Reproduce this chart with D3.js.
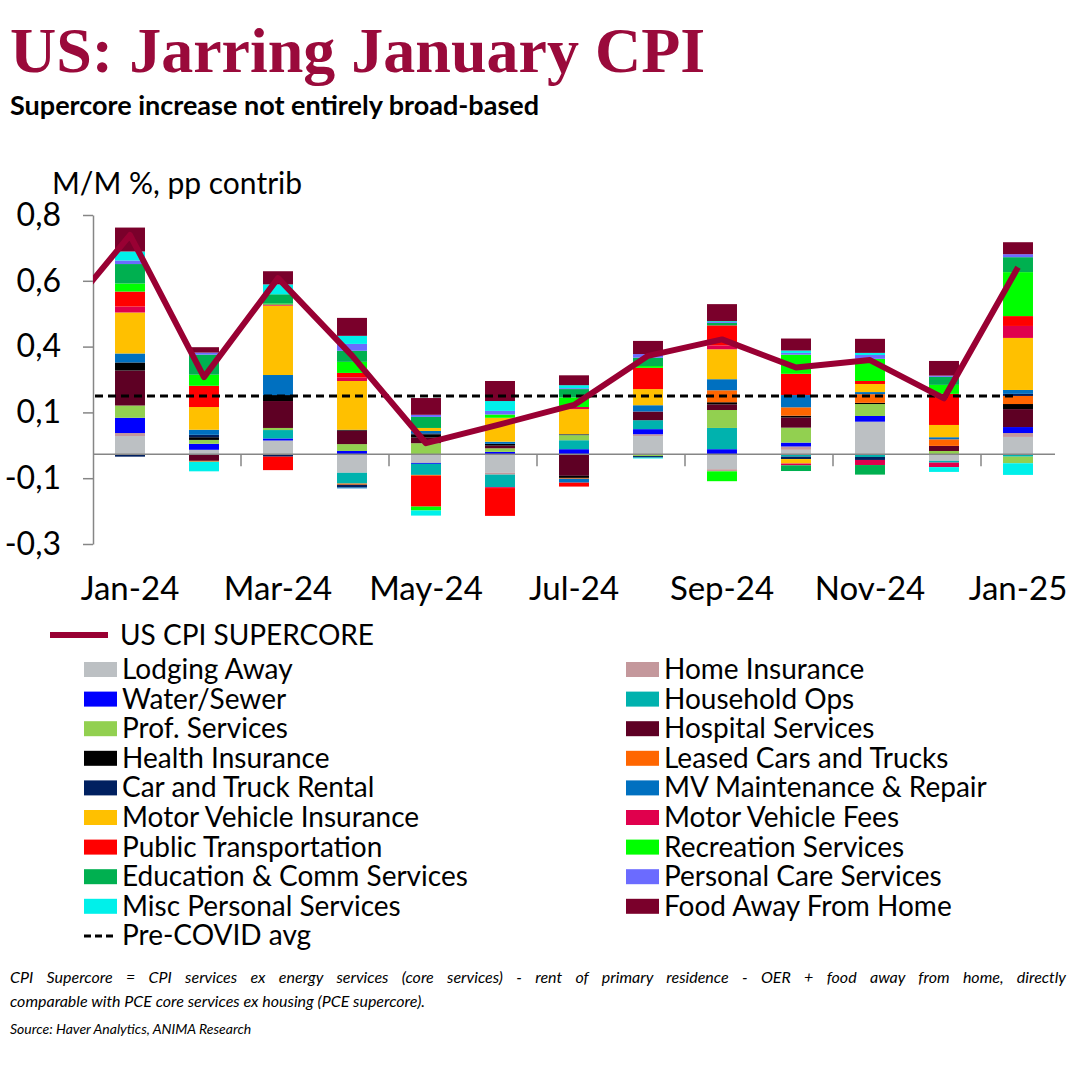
<!DOCTYPE html>
<html>
<head>
<meta charset="utf-8">
<script src="https://cdn.jsdelivr.net/npm/d3@7"></script>
<style>
  body { margin: 0; background: #fff; }
  svg { display: block; }
</style>
</head>
<body>
<div id="chart"></div>
<script>
// months on the category axis
var months = ["Jan-24", "Feb-24", "Mar-24", "Apr-24", "May-24", "Jun-24", "Jul-24",
              "Aug-24", "Sep-24", "Oct-24", "Nov-24", "Dec-24", "Jan-25"];
var labelMonths = ["Jan-24", "Mar-24", "May-24", "Jul-24", "Sep-24", "Nov-24", "Jan-25"];

// contributions, pp
var lodgingAway   = [0.061, 0.015, 0.046, -0.062, -0.029, -0.062, 0, 0.061, -0.050, 0.015, 0.109, -0.022, 0.058];
var homeInsurance = [0.010, 0, 0, 0, 0, -0.006, 0, 0.006, -0.007, 0.011, 0, 0, 0.013];
var waterSewer    = [0.051, 0.020, 0.007, 0.011, -0.003, 0.008, 0.017, 0.017, 0.017, 0.013, 0.019, 0, 0.020];
var householdOps  = [0, 0, 0.028, -0.036, -0.037, -0.042, 0.030, 0.030, 0.071, -0.008, -0.009, -0.006, -0.008];
var profServices  = [0.041, 0.013, 0.007, 0.023, 0.037, 0.012, 0.017, -0.006, 0.060, 0.050, 0.040, 0.011, -0.022];
var hospital      = [0.117, -0.022, 0.090, 0.045, 0.019, 0.009, -0.072, 0.029, 0.019, 0.034, 0, 0.017, 0.060];
var healthIns     = [0.027, 0.009, 0.020, 0.003, 0.011, 0.006, -0.007, 0, 0.007, 0.006, 0.004, 0, 0.017];
var leasedCars    = [0, -0.003, 0, -0.004, -0.003, 0, -0.003, 0, 0.040, 0.028, 0.029, 0.022, 0.027];
var carRental     = [-0.008, 0.008, -0.008, -0.009, 0.003, 0, 0.003, -0.005, 0, -0.008, -0.010, 0, 0.007];
var mvMaintenance = [0.030, 0.017, 0.067, -0.003, 0.008, 0.007, -0.013, 0.021, 0.037, 0.041, 0.007, 0.007, 0.013];
var mvInsurance   = [0.137, 0.076, 0.232, 0.163, 0.010, 0.080, 0.084, 0.054, 0.100, -0.015, 0.027, 0.041, 0.174];
var mvFees        = [0.020, 0, 0.004, 0.012, 0, -0.003, 0.007, 0, 0.013, -0.006, -0.017, -0.015, 0.040];
var publicTransp  = [0.050, 0.071, -0.045, 0.015, -0.103, -0.093, -0.013, 0.071, 0.067, 0.071, 0.010, 0.104, 0.033];
var recreation    = [0.027, 0.037, 0.003, 0.037, -0.013, 0.011, 0.032, 0.006, -0.033, 0.064, 0.074, 0.030, 0.147];
var education     = [0.065, 0.067, 0.031, 0.037, 0.037, 0, 0.028, 0.028, 0.008, -0.019, -0.032, 0.027, 0.050];
var personalCare  = [0.012, 0.007, 0, 0.023, 0.007, 0.012, 0.003, 0.012, 0.003, 0.006, 0.013, 0.004, 0.010];
var miscPersonal  = [0.030, -0.032, 0.033, 0.027, -0.017, 0.033, 0.010, -0.003, 0.003, 0.008, 0.007, -0.016, -0.039];
var foodAway      = [0.080, 0.018, 0.044, 0.060, 0.056, 0.067, 0.033, 0.044, 0.057, 0.040, 0.047, 0.049, 0.040];

// supercore line, starts one month before the first bar (clipped at the axis)
var lineMonths = ["Dec-23"].concat(months);
var supercore = [0.433, 0.733, 0.258, 0.589, 0.330, 0.037, 0.100, 0.165, 0.329, 0.384, 0.290, 0.315, 0.187, 0.625];
var preCovidAvg = 0.195;

var yTickValues = [-0.3, -0.08, 0.14, 0.36, 0.58, 0.8];

var seriesNames = ["Lodging Away", "Home Insurance", "Water/Sewer", "Household Ops", "Prof. Services",
  "Hospital Services", "Health Insurance", "Leased Cars and Trucks", "Car and Truck Rental",
  "MV Maintenance & Repair", "Motor Vehicle Insurance", "Motor Vehicle Fees", "Public Transportation",
  "Recreation Services", "Education & Comm Services", "Personal Care Services",
  "Misc Personal Services", "Food Away From Home"];
var seriesValues = [lodgingAway, homeInsurance, waterSewer, householdOps, profServices, hospital,
  healthIns, leasedCars, carRental, mvMaintenance, mvInsurance, mvFees, publicTransp, recreation,
  education, personalCare, miscPersonal, foodAway];
var seriesColors = ["#bcc0c3", "#c4989c", "#0000ff", "#00b2ae", "#92d050", "#5e0024",
  "#000000", "#ff6600", "#002060", "#0070c0", "#ffc000", "#e0004d", "#ff0000",
  "#00ff00", "#00b050", "#6b6bff", "#00f0ea", "#7a002b"];

var lineColor = "#990033";
var axisColor = "#868686";

// canvas
var svg = d3.select("#chart")
    .append("svg")
    .attr("width", 1080)
    .attr("height", 1080)
    .style("font-family", "Lato, sans-serif");

// title block
svg.append("text")
    .attr("x", 10).attr("y", 72)
    .style("font-family", "'Liberation Serif', serif")
    .style("font-weight", "bold")
    .style("font-size", "64px")
    .attr("fill", "#9a0a3b")
    .text("US: Jarring January CPI");

svg.append("text")
    .attr("x", 10).attr("y", 115)
    .style("font-weight", "bold")
    .style("font-size", "27px")
    .text("Supercore increase not entirely broad-based");

svg.append("text")
    .attr("x", 52).attr("y", 194)
    .style("font-size", "30px")
    .text("M/M %, pp contrib");

// scales
var plot = {left: 93, right: 1055, top: 215, bottom: 544};

var x = d3.scaleBand()
    .domain(months)
    .range([plot.left, plot.right])
    .paddingInner(0.595)
    .paddingOuter(0.2975);

var y = d3.scaleLinear()
    .domain([-0.3, 0.8])
    .range([plot.bottom, plot.top]);

var step = x.step();
var bw = x.bandwidth();
function cx(m) {
    if (m === "Dec-23") return x(months[0]) + bw / 2 - step;
    return x(m) + bw / 2;
}

var locale = d3.formatLocale({decimal: ",", thousands: ".", grouping: [3], currency: ["", "€"], minus: "-"});
var fmt = locale.format(".1f");

// y axis
var yAxis = svg.append("g")
    .attr("transform", "translate(" + plot.left + ",0)")
    .call(d3.axisLeft(y).tickValues(yTickValues).tickFormat(fmt).tickSize(10).tickSizeOuter(0).tickPadding(22));
yAxis.selectAll("path, line").attr("stroke", axisColor).attr("stroke-width", 1.5);
yAxis.selectAll("text").style("font-size", "32px").attr("fill", "#000").style("font-family", "Lato, sans-serif");

// stacked bars
var rows = months.map(function(m, i) {
    var r = {month: m};
    seriesNames.forEach(function(name, k) { r[name] = seriesValues[k][i]; });
    return r;
});

var stacked = d3.stack()
    .keys(seriesNames)
    .offset(d3.stackOffsetDiverging)(rows);

svg.append("g")
    .selectAll("g")
    .data(stacked)
    .join("g")
    .attr("fill", function(d, k) { return seriesColors[k]; })
    .selectAll("rect")
    .data(function(d) { return d; })
    .join("rect")
    .attr("x", function(d) { return x(d.data.month); })
    .attr("width", bw)
    .attr("y", function(d) { return y(Math.max(d[0], d[1])); })
    .attr("height", function(d) { return Math.abs(y(d[0]) - y(d[1])); });

// zero axis with ticks between every second category
svg.append("line")
    .attr("x1", plot.left).attr("x2", plot.right)
    .attr("y1", y(0)).attr("y2", y(0))
    .attr("stroke", axisColor).attr("stroke-width", 1.5);

svg.append("g")
    .selectAll("line")
    .data(months.filter(function(m, i) { return i > 0 && i % 2 === 0; }))
    .join("line")
    .attr("x1", function(m) { return x(m) - (step - bw) / 2; })
    .attr("x2", function(m) { return x(m) - (step - bw) / 2; })
    .attr("y1", y(0)).attr("y2", y(0) + 12)
    .attr("stroke", axisColor).attr("stroke-width", 1.5);

// month labels below the plot
var xAxis = svg.append("g")
    .attr("transform", "translate(0," + plot.bottom + ")")
    .call(d3.axisBottom(x).tickValues(labelMonths).tickSize(0).tickPadding(33));
xAxis.select(".domain").remove();
xAxis.selectAll("text").style("font-size", "33px").attr("fill", "#000").style("font-family", "Lato, sans-serif");

// lines, clipped to the plot area
svg.append("clipPath").attr("id", "plotclip")
    .append("rect")
    .attr("x", plot.left).attr("y", plot.top - 10)
    .attr("width", plot.right - plot.left).attr("height", plot.bottom - plot.top + 20);

var lineGroup = svg.append("g").attr("clip-path", "url(#plotclip)");

var avgLine = d3.line()
    .x(function(m) { return cx(m); })
    .y(function() { return y(preCovidAvg); });

lineGroup.append("path")
    .datum(lineMonths)
    .attr("fill", "none")
    .attr("stroke", "#000")
    .attr("stroke-width", 3)
    .attr("stroke-dasharray", "8,5")
    .attr("d", avgLine);

var superLine = d3.line()
    .x(function(d, i) { return cx(lineMonths[i]); })
    .y(function(d) { return y(d); });

lineGroup.append("path")
    .datum(supercore)
    .attr("fill", "none")
    .attr("stroke", lineColor)
    .attr("stroke-width", 6)
    .attr("stroke-linejoin", "round")
    .attr("d", superLine);

// legend
var legend = svg.append("g").style("font-size", "28px");

legend.append("line")
    .attr("x1", 50).attr("x2", 108).attr("y1", 635).attr("y2", 635)
    .attr("stroke", lineColor).attr("stroke-width", 6);
legend.append("text").attr("x", 120).attr("y", 645).text("US CPI SUPERCORE");

var rowH = 29.6;
var items = legend.selectAll("g.item")
    .data(seriesNames)
    .join("g")
    .attr("class", "item")
    .attr("transform", function(d, i) {
        return "translate(" + (i % 2 ? 626 : 84) + "," + (662 + Math.floor(i / 2) * rowH) + ")";
    });
items.append("rect")
    .attr("width", 33).attr("height", 15)
    .attr("fill", function(d, i) { return seriesColors[i]; });
items.append("text")
    .attr("x", 38).attr("y", 17)
    .text(function(d) { return d; });

var lastY = 662 + 9 * rowH;
legend.append("line")
    .attr("x1", 84).attr("x2", 116).attr("y1", lastY + 7.5).attr("y2", lastY + 7.5)
    .attr("stroke", "#000").attr("stroke-width", 3).attr("stroke-dasharray", "7,4");
legend.append("text").attr("x", 122).attr("y", lastY + 17).text("Pre-COVID avg");

// footnote, first line justified by stretching the word gaps
var foot = svg.append("g")
    .style("font-style", "italic")
    .style("font-family", "Lato, sans-serif");
var note1 = foot.append("text")
    .attr("x", 10).attr("y", 983)
    .style("font-size", "16px")
    .text("CPI Supercore = CPI services ex energy services (core services) - rent of primary residence - OER + food away from home, directly");
var gaps = note1.text().split(" ").length - 1;
var extra = (1056 - note1.node().getComputedTextLength()) / gaps;
note1.style("word-spacing", extra + "px");

foot.append("text")
    .attr("x", 10).attr("y", 1007)
    .style("font-size", "16px")
    .text("comparable with PCE core services ex housing (PCE supercore).");
foot.append("text")
    .attr("x", 10).attr("y", 1034)
    .style("font-size", "14px")
    .text("Source: Haver Analytics, ANIMA Research");
</script>
</body>
</html>
